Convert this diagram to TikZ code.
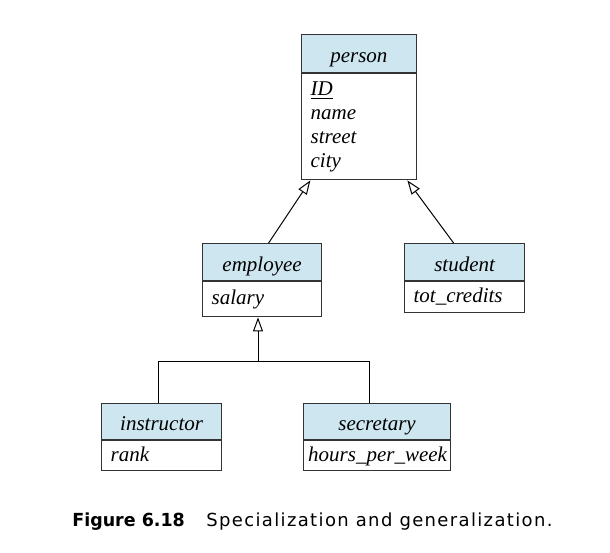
\documentclass[tikz,border=0pt]{standalone}
\usepackage{fontspec}
\setmainfont{Liberation Serif}
\newfontfamily\captfont{DejaVu Sans}
\usetikzlibrary{arrows.meta}

\definecolor{headblue}{RGB}{206,230,240}

\tikzset{
    classhead/.style = {draw = black!80, line width = 0.6pt, fill = headblue, anchor = north west,
        inner xsep = 0pt, text height = 9pt, text depth = 0pt, font = \fontsize{10.5}{12}\selectfont\itshape},
    classbody/.style = {draw = black!80, line width = 0.6pt, fill = white, anchor = north west,
        align = left, inner xsep = 4.5pt, inner ysep = 0pt, font = \fontsize{10.5}{12}\selectfont\itshape},
    oneline/.style = {text height = 6.5pt, text depth = 1pt},
    isa/.style = {line width = 0.5pt, -{Triangle[open, length = 7pt, width = 5pt, fill = white]}},
}

\begin{document}
\begin{tikzpicture}[x = 0.5pt, y = -0.5pt]

    \useasboundingbox (0, 0) rectangle (610, 552);

    % superclass
    \node[classhead, minimum width = 57.25pt, minimum height = 19pt] (person) at (301, 34) {person};
    \node[classbody, text width = 48.25pt, minimum height = 53pt] (personattr) at (person.south west)
        {\underline{ID}\\ name\\ street\\ city};

    % second level
    \node[classhead, minimum width = 59.5pt, minimum height = 18.5pt] (employee) at (202, 243) {employee};
    \node[classbody, oneline, text width = 50.5pt, minimum height = 17.5pt] (employeeattr) at (employee.south west) {salary};

    \node[classhead, minimum width = 60pt, minimum height = 18.5pt] (student) at (404, 243) {student};
    \node[classbody, oneline, text width = 51pt, minimum height = 15.5pt] (studentattr) at (student.south west) {tot\_credits};

    % third level
    \node[classhead, minimum width = 60pt, minimum height = 18pt] (instructor) at (101, 403) {instructor};
    \node[classbody, oneline, text width = 51pt, minimum height = 15pt] (instructorattr) at (instructor.south west) {rank};

    \node[classhead, minimum width = 73.5pt, minimum height = 18pt] (secretary) at (303, 403) {secretary};
    \node[classbody, oneline, inner xsep = 2.3pt, text width = 68.9pt, minimum height = 15pt] (secretaryattr) at (secretary.south west) {hours\_per\_week};

    % generalisation arrows
    \draw[isa] ([xshift = 3.25pt]employee.north) -- ([xshift = -24.25pt]personattr.south);
    \draw[isa] ([xshift = -5.5pt]student.north) -- ([xshift = 24.25pt]personattr.south);

    \coordinate (fork) at (258, 361);
    \coordinate (forkl) at (158, 361);
    \coordinate (forkr) at (369, 361);
    \draw[isa] (fork) -- (employeeattr.south -| fork);
    \draw[line width = 0.5pt] (instructor.north -| forkl) -- (forkl) -- (forkr) -- (secretary.north -| forkr);

    % caption
    \node[anchor = base west, inner sep = 0pt, font = \captfont\fontsize{9}{11}\selectfont\bfseries\addfontfeature{FakeStretch = 0.97}] (capnum) at (72, 526) {Figure 6.18};
    \node[anchor = base west, inner sep = 0pt, font = \captfont\fontsize{9}{11}\selectfont\addfontfeature{LetterSpace = 7.5}] (captext) at (206, 526) {Specialization and generalization.};

\end{tikzpicture}
\end{document}
